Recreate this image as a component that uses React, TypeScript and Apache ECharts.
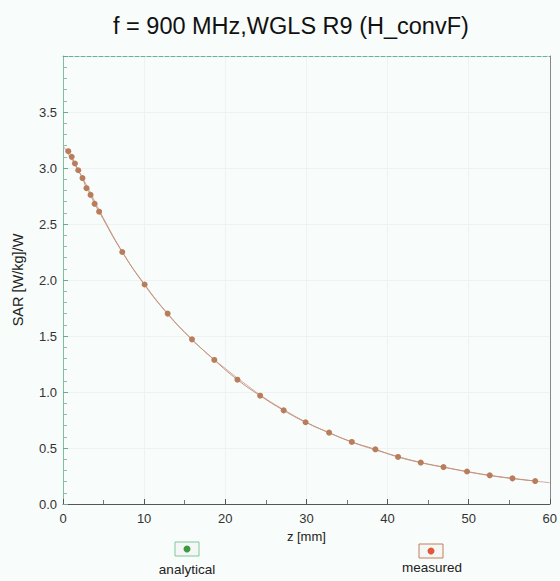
import React, { useEffect, useRef } from "react";
import * as echarts from "echarts";

const TITLE = "f = 900 MHz,WGLS R9 (H_convF)";
const X_NAME = "z [mm]";
const Y_NAME = "SAR [W/kg]/W";
const LEGEND_NAMES = ["analytical", "measured"];

const measuredZ = [0.65, 1.07, 1.47, 1.88, 2.4, 2.9, 3.4, 3.9, 4.45, 7.3, 10.06, 12.9, 15.9, 18.65, 21.5, 24.3, 27.2, 29.9, 32.8, 35.6, 38.5, 41.3, 44.1, 46.9, 49.8, 52.6, 55.4, 58.2];
const measuredSAR = [3.15, 3.1, 3.04, 2.98, 2.91, 2.82, 2.76, 2.68, 2.61, 2.25, 1.96, 1.7, 1.47, 1.286, 1.11, 0.967, 0.836, 0.73, 0.637, 0.554, 0.488, 0.42, 0.37, 0.33, 0.29, 0.256, 0.229, 0.205];

const analyticalZ = [0, 2.5, 5, 7.5, 10, 12.5, 15, 17.5, 20, 22.5, 25, 27.5, 30, 32.5, 35, 37.5, 40, 42.5, 45, 47.5, 50, 52.5, 55, 57.5, 60];
const analyticalSAR = [3.2, 2.9, 2.55, 2.23, 1.96, 1.73, 1.53, 1.36, 1.21, 1.07, 0.94, 0.83, 0.73, 0.645, 0.57, 0.505, 0.45, 0.4, 0.355, 0.32, 0.285, 0.255, 0.23, 0.21, 0.19];

export default function App() {
  const ref = useRef<HTMLDivElement>(null);
  useEffect(() => {
    if (!ref.current) return;
    const chart = echarts.init(ref.current, null, { renderer: "svg" });
    const font = "Liberation Sans, Arial, sans-serif";
    chart.setOption({
      animation: false,
      backgroundColor: "#f8fcfa",
      textStyle: { fontFamily: font },
      title: {
        text: TITLE,
        left: 108,
        top: 9,
        textStyle: { fontSize: 23.5, fontWeight: "normal", color: "#111", fontFamily: font },
      },
      grid: { left: 63, right: 8, top: 56, bottom: 77, show: false },
      xAxis: [
        {
          type: "value",
          min: 0,
          max: 60,
          interval: 10,
          name: X_NAME,
          nameLocation: "middle",
          nameGap: 22,
          nameTextStyle: { fontSize: 13, color: "#222" },
          axisLine: { show: true, onZero: false, lineStyle: { color: "#555", width: 1 } },
          axisTick: { show: true, inside: true, length: 5, lineStyle: { color: "#555" } },
          minorTick: { show: true, splitNumber: 2, length: 4, lineStyle: { color: "#777" } },
          axisLabel: { fontSize: 13, color: "#333", margin: 8 },
          splitLine: { show: true, lineStyle: { color: "#eef2f0" } },
        },
        {
          type: "value",
          position: "top",
          min: 0,
          max: 60,
          axisLine: { show: true, onZero: false, lineStyle: { color: "#5fb890", type: "dashed", width: 1 } },
          axisTick: { show: false },
          axisLabel: { show: false },
          splitLine: { show: false },
        },
      ],
      yAxis: [
        {
          type: "value",
          min: 0,
          max: 4,
          interval: 0.5,
          name: Y_NAME,
          nameLocation: "middle",
          nameGap: 38,
          nameTextStyle: { fontSize: 14.5, color: "#222" },
          axisLine: { show: true, onZero: false, lineStyle: { color: "#7fbf9f", width: 1 } },
          axisTick: { show: true, inside: true, length: 5, lineStyle: { color: "#6aaa8a" } },
          minorTick: { show: true, splitNumber: 5, length: 4, lineStyle: { color: "#8cbfa6" } },
          axisLabel: {
            fontSize: 13,
            color: "#333",
            margin: 6,
            showMaxLabel: false,
            formatter: (v: number) => v.toFixed(1),
          },
          splitLine: { show: true, lineStyle: { color: "#eef2f0" } },
        },
        {
          type: "value",
          position: "right",
          min: 0,
          max: 4,
          axisLine: { show: true, onZero: false, lineStyle: { color: "#888", width: 1 } },
          axisTick: { show: false },
          axisLabel: { show: false },
          splitLine: { show: false },
        },
      ],
      series: [
        {
          name: LEGEND_NAMES[0],
          type: "line",
          smooth: true,
          showSymbol: false,
          symbol: "none",
          data: analyticalZ.map((z, i) => [z, analyticalSAR[i]]),
          lineStyle: { color: "#d2a8a2", width: 1 },
          z: 2,
        },
        {
          name: LEGEND_NAMES[1],
          type: "line",
          smooth: true,
          symbol: "circle",
          symbolSize: 6,
          data: measuredZ.map((z, i) => [z, measuredSAR[i]]),
          itemStyle: { color: "#b97d5c" },
          lineStyle: { color: "#c09078", width: 1 },
          z: 3,
        },
      ],
      graphic: [
        {
          type: "rect",
          shape: { x: 175, y: 542, width: 24, height: 14 },
          style: { fill: "#f4f7f5", stroke: "#7cc9a0", lineWidth: 1 },
        },
        { type: "circle", shape: { cx: 187, cy: 549, r: 3.5 }, style: { fill: "#3e9a3e" } },
        {
          type: "text",
          x: 187,
          y: 569,
          style: { text: LEGEND_NAMES[0], fontSize: 13.5, fill: "#222", align: "center", verticalAlign: "middle", fontFamily: font },
        },
        {
          type: "rect",
          shape: { x: 419, y: 544, width: 24, height: 14 },
          style: { fill: "#f4f7f5", stroke: "#c0805a", lineWidth: 1 },
        },
        { type: "circle", shape: { cx: 431, cy: 551, r: 3.5 }, style: { fill: "#e05a3a" } },
        {
          type: "text",
          x: 432,
          y: 567,
          style: { text: LEGEND_NAMES[1], fontSize: 13.5, fill: "#222", align: "center", verticalAlign: "middle", fontFamily: font },
        },
      ],
    });
    return () => chart.dispose();
  }, []);
  return <div ref={ref} style={{ width: 560, height: 581, position: "absolute", left: 0, top: 0 }} />;
}
